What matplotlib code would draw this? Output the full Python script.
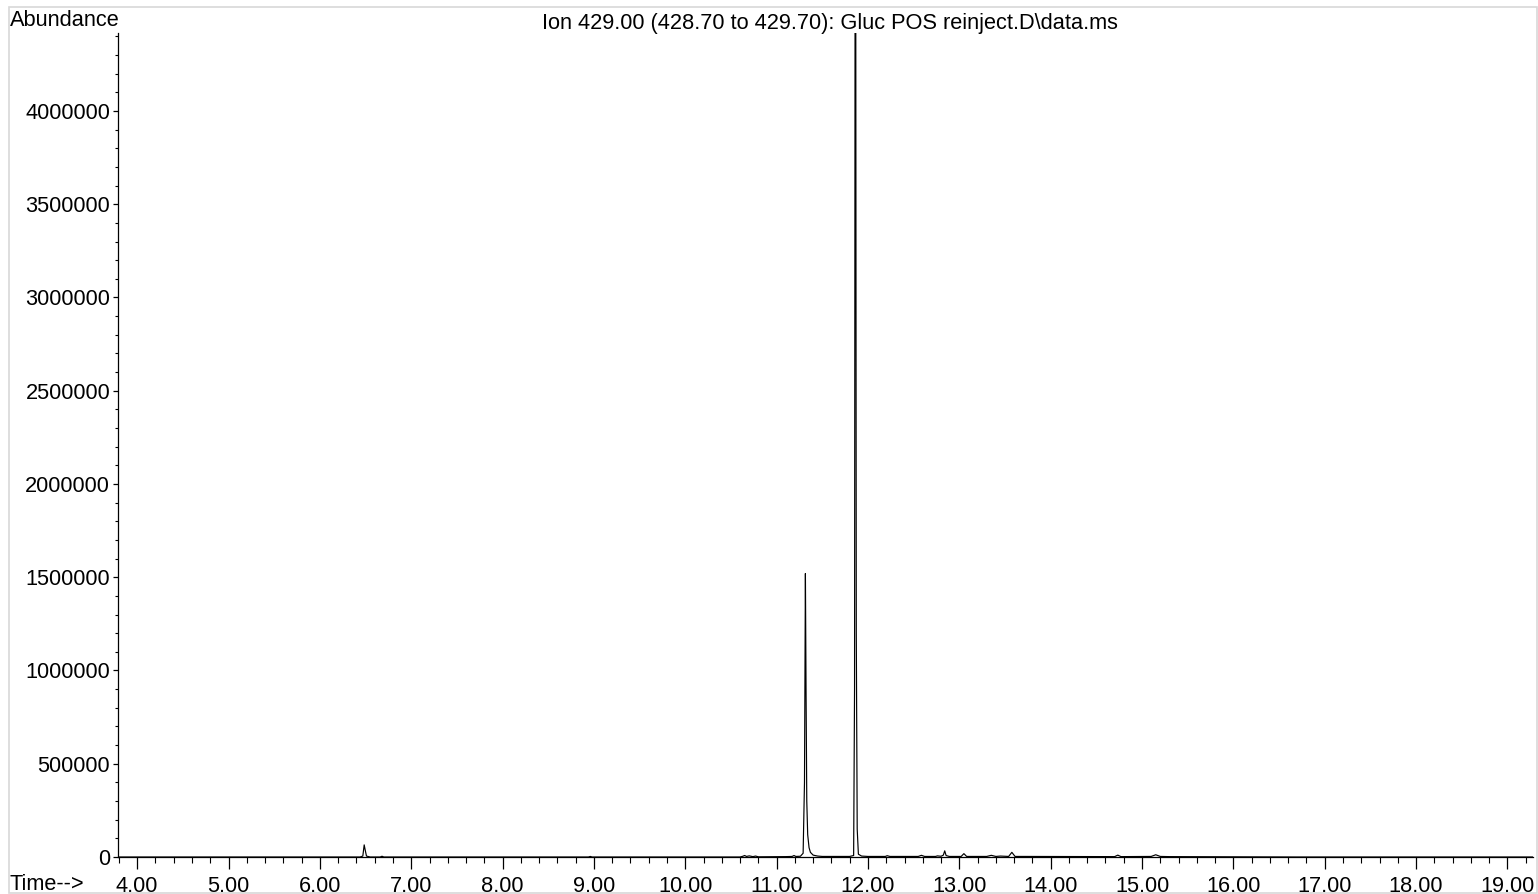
import matplotlib
matplotlib.use("Agg")
import matplotlib.pyplot as plt
from matplotlib.patches import Rectangle
from matplotlib.ticker import MultipleLocator, FuncFormatter

plt.rcParams["font.family"] = ["Liberation Sans", "DejaVu Sans"]

# chromatogram trace (time in min, abundance)
rt_min = [
    3.79, 6.44, 6.47, 6.485, 6.495, 6.51, 6.55, 6.66, 6.68, 6.70,
    8.94, 8.96, 8.98, 10.60, 10.63, 10.65, 10.67, 10.70, 10.74, 10.77,
    10.80, 11.10, 11.17, 11.19, 11.21, 11.26, 11.29, 11.305, 11.315, 11.322,
    11.33, 11.34, 11.355, 11.37, 11.40, 11.45, 11.50, 11.80, 11.843, 11.853,
    11.859, 11.866, 11.872, 11.882, 11.895, 11.93, 12.00, 12.19, 12.21, 12.24,
    12.55, 12.585, 12.62, 12.74, 12.76, 12.80, 12.825, 12.84, 12.855, 12.89,
    13.02, 13.05, 13.08, 13.30, 13.35, 13.40, 13.45, 13.54, 13.575, 13.61,
    13.70, 14.70, 14.735, 14.77, 15.10, 15.15, 15.20, 15.30, 16.00, 16.70,
    19.28,
]
abundance = [
    0, 0, 5000, 65000, 40000, 5000, 0, 0, 4000, 0,
    0, 3000, 0, 0, 4000, 8000, 3000, 6000, 2000, 5000,
    1000, 2000, 3000, 8000, 3000, 4000, 20000, 400000, 1520000, 900000,
    300000, 120000, 50000, 25000, 10000, 5000, 3000, 3000, 8000, 900000,
    4800000, 4800000, 1200000, 150000, 15000, 5000, 3000, 3000, 7000, 3000,
    3000, 9000, 3000, 3000, 6000, 4000, 10000, 33000, 8000, 3000,
    3000, 18000, 3000, 3000, 9000, 3000, 5000, 3000, 25000, 3000,
    3000, 2000, 10000, 2000, 3000, 12000, 3000, 2000, 1000, 0,
    0,
]

x_range = (3.79, 19.28)
y_range = (0, 4418000)
title = "Ion 429.00 (428.70 to 429.70): Gluc POS reinject.D\\data.ms"
fs = 15.7

fig = plt.figure(figsize=(15.38, 8.94), dpi=100)
ax = fig.add_axes([118 / 1538, 1 - 857 / 894, (1533 - 118) / 1538, (857 - 33) / 894])

ax.plot(rt_min, abundance, color="black", linewidth=0.85)
ax.set_xlim(*x_range)
ax.set_ylim(*y_range)

for side in ["top", "right"]:
    ax.spines[side].set_visible(False)
for side in ["left", "bottom"]:
    ax.spines[side].set_linewidth(0.9)

ax.xaxis.set_major_locator(MultipleLocator(1.0))
ax.xaxis.set_minor_locator(MultipleLocator(0.2))
ax.xaxis.set_major_formatter(FuncFormatter(lambda v, p: "%.2f" % v))
ax.yaxis.set_major_locator(MultipleLocator(500000))
ax.yaxis.set_minor_locator(MultipleLocator(100000))
ax.yaxis.set_major_formatter(FuncFormatter(lambda v, p: "%d" % v))

ax.tick_params(axis="x", which="major", length=8.6, width=0.9, pad=5, labelsize=fs)
ax.tick_params(axis="x", which="minor", length=4.3, width=0.8)
ax.tick_params(axis="y", which="major", length=3.6, width=0.9, pad=2, labelsize=fs)
ax.tick_params(axis="y", which="minor", length=2.2, width=0.8)

fig.text(10 / 1538, 1 - 21 / 894, "Abundance", fontsize=fs, ha="left", va="center")
fig.text(10 / 1538, 1 - 885 / 894, "Time-->", fontsize=fs, ha="left", va="center")
fig.text(830 / 1538, 1 - 23 / 894, title, fontsize=fs, ha="center", va="center")

# light frame around the whole picture
fig.patches.append(Rectangle((9 / 1538, 1 / 894), 1528 / 1538, 886 / 894,
                             transform=fig.transFigure, fill=False,
                             edgecolor="#d8d8d8", linewidth=1.2))

fig.savefig("out.png", dpi=100)
